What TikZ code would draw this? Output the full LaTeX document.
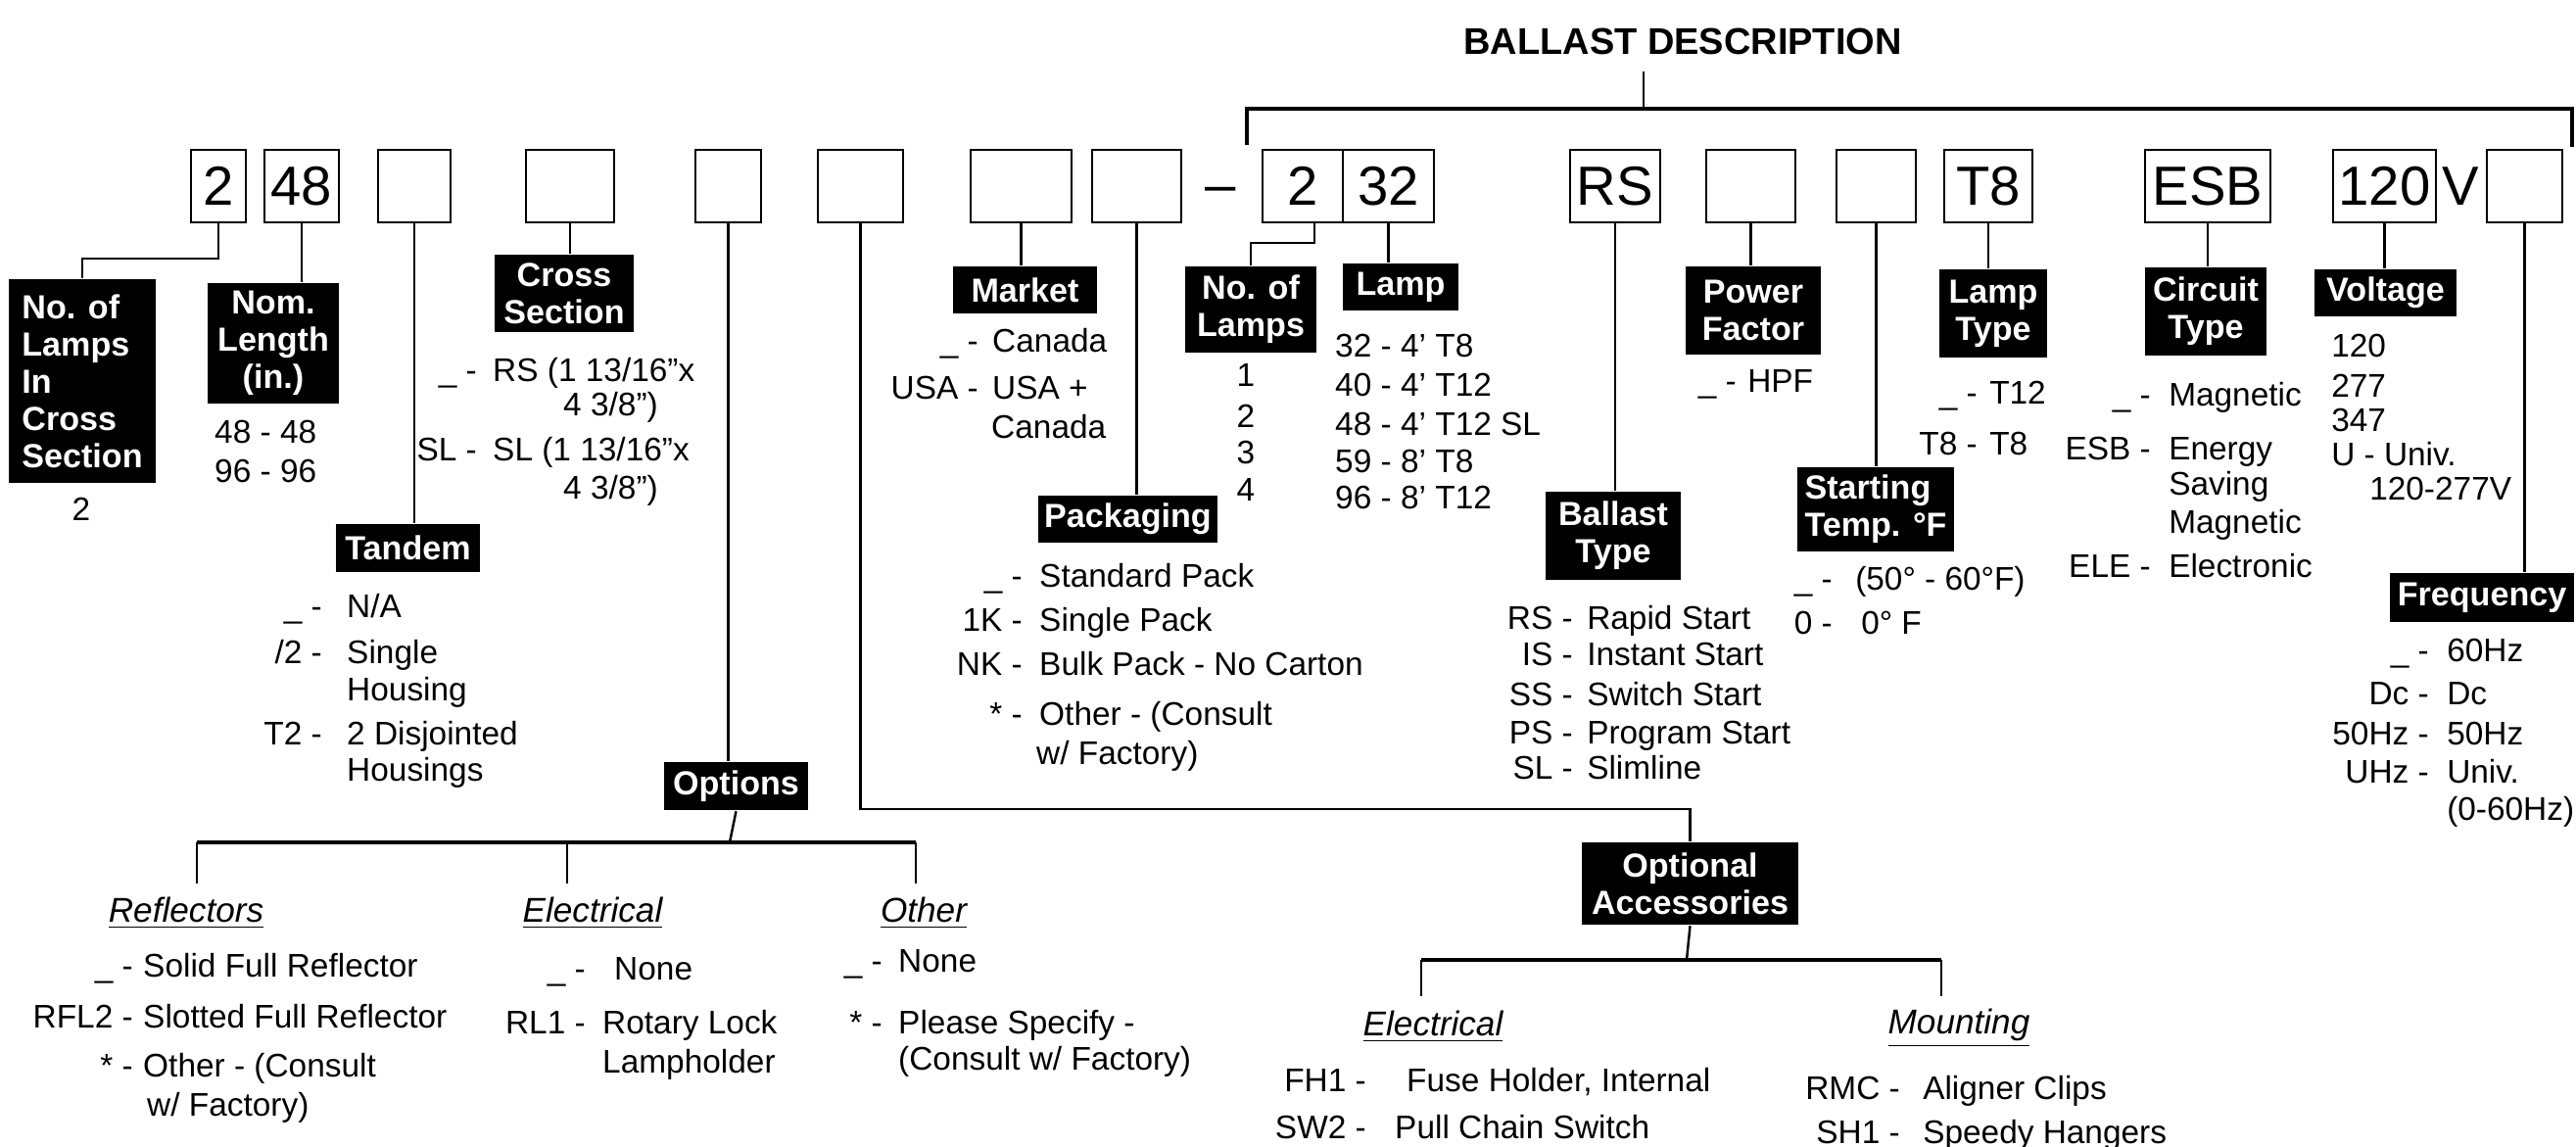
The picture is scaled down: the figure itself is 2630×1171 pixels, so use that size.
\documentclass[tikz,border=0pt]{standalone}
\usepackage{fontspec}
\setmainfont{Liberation Sans}

\tikzset{
  cbox/.style={draw, line width=.7pt, minimum height=.74cm, inner sep=0pt, font=\fontsize{16}{18}\selectfont},
  tagbox/.style 2 args={fill=black, text=white, inner sep=0pt, align=center, minimum width=#1, minimum height=#2,
    font=\bfseries\fontsize{9.7}{10.8}\selectfont},
  txt/.style={inner sep=0pt, font=\fontsize{9.5}{11}\selectfont},
  optcode/.style={txt, anchor=mid east, yshift=-1pt},
  optdesc/.style={txt, anchor=mid west, yshift=-1pt},
  head/.style={inner sep=0pt, font=\itshape\fontsize{10}{12}\selectfont},
  bus/.style={line width=1pt}
}

\begin{document}
\begin{tikzpicture}[x=0.01cm, y=-0.01cm, line width=.7pt]
\useasboundingbox (0,0) rectangle (2630,1171);
% catalogue code boxes
\foreach \n/\x/\w/\t in {b1/223/0.56/2, b2/308/0.76/48, b3/423/0.74/{}, b4/582/0.90/{}, b5/743.5/0.67/{}, b6/878.5/0.87/{},
  b7/1042.5/1.03/{}, b8/1160.5/0.91/{}, b9/1330/0.82/2, b10/1417.5/0.93/32, b11/1649/0.92/RS, b12/1787.5/0.91/{},
  b13/1915.5/0.81/{}, b14/2030/0.90/T8, b15/2254/1.28/ESB, b16/2434.5/1.05/120, b17/2577.5/0.77/{}}
  \node[cbox, minimum width=\w cm] (\n) at (\x,190) {\t};
\node[anchor=west, inner sep=1pt, font=\fontsize{16}{18}\selectfont] (b16v) at (b16.east) {V};
\node[anchor=base, inner sep=0pt, font=\fontsize{16}{18}\selectfont] (hyph) at (1246,208) {–};
% ballast description bracket
\node[inner sep=0pt, font=\bfseries\fontsize{10.8}{12}\selectfont] (title) at (1718,42) {BALLAST DESCRIPTION};
\coordinate (brL) at (1273,148); \coordinate (brTL) at (1273,111); \coordinate (brTR) at (2626,111); \coordinate (brR) at (2626,150);
\coordinate (brM) at (1678,111); \coordinate (brTop) at (1678,73);
\draw[bus] (brL) -- (brTL) -- (brTR) -- (brR); \draw (brM) -- (brTop);

% black labels
\node[tagbox={1.50cm}{2.08cm}, align=left] (nolcs) at (84,389) {No. of\\Lamps\\In\\Cross\\Section};
\node[tagbox={1.34cm}{1.23cm}] (nomlen) at (279,350.5) {Nom.\\Length\\(in.)};
\node[tagbox={1.42cm}{0.79cm}] (crosssec) at (576,299.5) {Cross\\Section};
\node[tagbox={1.47cm}{0.49cm}] (tandem) at (416.5,559.5) {Tandem};
\node[tagbox={1.47cm}{0.49cm}] (options) at (751.5,802.5) {Options};
\node[tagbox={1.47cm}{0.48cm}] (market) at (1046.5,296) {Market};
\node[tagbox={1.83cm}{0.48cm}] (packaging) at (1151.5,530) {Packaging};
\node[tagbox={1.34cm}{0.88cm}] (nolamps) at (1277,316) {No. of\\Lamps};
\node[tagbox={1.18cm}{0.48cm}] (lamp) at (1430,293) {Lamp};
\node[tagbox={1.38cm}{0.90cm}] (balltype) at (1647,547) {Ballast\\Type};
\node[tagbox={1.38cm}{0.90cm}] (powerfac) at (1790,317) {Power\\Factor};
\node[tagbox={1.60cm}{0.86cm}, align=left] (starttemp) at (1915,520) {Starting\\Temp. °F};
\node[tagbox={1.10cm}{0.90cm}] (lamptype) at (2035,320) {Lamp\\Type};
\node[tagbox={1.24cm}{0.90cm}] (circtype) at (2252,318) {Circuit\\Type};
\node[tagbox={1.45cm}{0.48cm}] (voltage) at (2435.5,299) {Voltage};
\node[tagbox={1.88cm}{0.50cm}] (frequency) at (2534,610) {Frequency};
\node[tagbox={2.21cm}{0.84cm}] (optacc) at (1725.5,902) {Optional\\Accessories};

% connectors from the code boxes
\draw (b1.south) -- ++(0,36) -| (nolcs.north);
\draw (b2.south) -- (b2.south |- nomlen.north);
\draw (b3.south) -- (b3.south |- tandem.north);
\draw (b4.south) -- (b4.south |- crosssec.north);
\draw (b5.south) -- (b5.south |- options.north);
\coordinate (acc-knee) at (874,826);
\draw (b6.south) -- (b6.south |- acc-knee) -| (optacc.north);
\draw (b7.south) -- (b7.south |- market.north);
\draw (b8.south) -- (b8.south |- packaging.north);
\draw ([xshift=.12cm]b9.south) -- ++(0,20) -| (nolamps.north);
\draw (b10.south) -- (b10.south |- lamp.north);
\draw (b11.south) -- (b11.south |- balltype.north);
\draw (b12.south) -- (b12.south |- powerfac.north);
\draw (b13.south) -- (b13.south |- starttemp.north);
\draw (b14.south) -- (b14.south |- lamptype.north);
\draw (b15.south) -- (b15.south |- circtype.north);
\draw (b16.south) -- (b16.south |- voltage.north);
\draw (b17.south) -- (b17.south |- frequency.north);

% lamps in cross section, nominal length
\node[txt] (nolcs-v) at (83,520) {2};
\node[optdesc] (len1) at (218,440) {48 - 48}; \node[optdesc] (len2) at (218,480) {96 - 96};
% cross section
\node[optcode] (cs-c1) at (488,377) {\_ -}; \node[optdesc] (cs-d1) at (502,377) {RS (1 13/16”x};
\node[optdesc] (cs-d2) at (574,412) {4 3/8”)};
\node[optcode] (cs-c3) at (488,458) {SL -}; \node[optdesc] (cs-d3) at (502,458) {SL (1 13/16”x};
\node[optdesc] (cs-d4) at (574,497) {4 3/8”)};
% tandem
\foreach \y/\c/\d [count=\i] in {618/{\_ -}/{N/A}, 665/{/2 -}/Single, 748/{T2 -}/{2 Disjointed}}
  {\node[optcode] (tan-c\i) at (330,\y) {\c}; \node[optdesc] (tan-d\i) at (353,\y) {\d};}
\node[optdesc] (tan-h1) at (353,703) {Housing}; \node[optdesc] (tan-h2) at (353,785) {Housings};
% market
\foreach \y/\c/\d [count=\i] in {347/{\_ -}/Canada, 395/{USA -}/{USA +}}
  {\node[optcode] (mkt-c\i) at (1000,\y) {\c}; \node[optdesc] (mkt-d\i) at (1012,\y) {\d};}
\node[optdesc] (mkt-d3) at (1011,435) {Canada};
% packaging
\foreach \y/\c/\d [count=\i] in {587/{\_ -}/{Standard Pack}, 632/{1K -}/{Single Pack}, 677/{NK -}/{Bulk Pack - No Carton},
  728/{* -}/{Other - (Consult}}
  {\node[optcode] (pck-c\i) at (1045,\y) {\c}; \node[optdesc] (pck-d\i) at (1060,\y) {\d};}
\node[optdesc] (pck-d5) at (1057,768) {w/ Factory)};
% number of lamps, lamp
\foreach \n/\y in {1/383, 2/425, 3/462, 4/500} \node[txt] (nl\n) at (1272,\y) {\n};
\foreach \y/\t [count=\i] in {352/{32 - 4’ T8}, 392/{40 - 4’ T12}, 432/{48 - 4’ T12 SL}, 470/{59 - 8’ T8}, 507/{96 - 8’ T12}}
  \node[optdesc] (lmp\i) at (1362,\y) {\t};
% ballast type
\foreach \y/\c/\d [count=\i] in {630/RS/{Rapid Start}, 667/IS/{Instant Start}, 708/SS/{Switch Start},
  747/PS/{Program Start}, 783/SL/Slimline}
  {\node[optcode] (bt-c\i) at (1607,\y) {\c\ -}; \node[optdesc] (bt-d\i) at (1619,\y) {\d};}
% power factor, starting temperature, lamp type
\node[optcode] (pf-c1) at (1774,388) {\_ -}; \node[optdesc] (pf-d1) at (1783,388) {HPF};
\node[optcode] (st-c1) at (1872,590) {\_ -}; \node[optdesc] (st-d1) at (1893,590) {(50° - 60°F)};
\node[optcode] (st-c2) at (1872,635) {0 -}; \node[optdesc] (st-d2) at (1899,635) {0° F};
\node[optcode] (lt-c1) at (2020,400) {\_ -}; \node[optdesc] (lt-d1) at (2030,400) {T12};
\node[optcode] (lt-c2) at (2020,452) {T8 -}; \node[optdesc] (lt-d2) at (2030,452) {T8};
% circuit type
\foreach \y/\c/\d [count=\i] in {402/{\_ -}/Magnetic, 457/{ESB -}/Energy, 577/{ELE -}/Electronic}
  {\node[optcode] (ct-c\i) at (2197,\y) {\c}; \node[optdesc] (ct-d\i) at (2213,\y) {\d};}
\node[optdesc] (ct-d4) at (2213,493) {Saving}; \node[optdesc] (ct-d5) at (2213,532) {Magnetic};
% voltage
\foreach \y/\t [count=\i] in {352/120, 393/277, 428/347, 463/{U - Univ.}}
  \node[optdesc] (vlt\i) at (2379,\y) {\t};
\node[optdesc] (vlt5) at (2418,498) {120-277V};
% frequency
\foreach \y/\c/\d [count=\i] in {663/{\_ -}/60Hz, 707/{Dc -}/Dc, 748/{50Hz -}/50Hz, 787/{UHz -}/{Univ.}}
  {\node[optcode] (fq-c\i) at (2481,\y) {\c}; \node[optdesc] (fq-d\i) at (2497,\y) {\d};}
\node[optdesc] (fq-d5) at (2497,825) {(0-60Hz)};

% options tree
\coordinate (ob) at (745,860); \coordinate (ob1) at (201,860); \coordinate (ob2) at (579,860); \coordinate (ob3) at (935,860);
\draw (options.south) -- (ob); \draw[bus] (ob1) -- (ob3);
\foreach \c in {ob1,ob2,ob3} \draw (\c) -- ++(0,42);
\node[head] (h-refl) at (190,932) {\underline{Reflectors}};
\node[head] (h-elec) at (605,932) {\underline{Electrical}};
\node[head] (h-oth) at (943,932) {\underline{Other}};
\foreach \y/\c/\d [count=\i] in {985/{\_ -}/{Solid Full Reflector}, 1037/{RFL2 -}/{Slotted Full Reflector}, 1087/{* -}/{Other - (Consult}}
  {\node[optcode] (rf-c\i) at (137,\y) {\c}; \node[optdesc] (rf-d\i) at (145,\y) {\d};}
\node[optdesc] (rf-d4) at (149,1127) {w/ Factory)};
\node[optcode] (el-c1) at (599,988) {\_ -}; \node[optdesc] (el-d1) at (626,988) {None};
\node[optcode] (el-c2) at (599,1043) {RL1 -}; \node[optdesc] (el-d2) at (614,1043) {Rotary Lock};
\node[optdesc] (el-d3) at (614,1083) {Lampholder};
\node[optcode] (ot-c1) at (902,980) {\_ -}; \node[optdesc] (ot-d1) at (916,980) {None};
\node[optcode] (ot-c2) at (902,1043) {* -}; \node[optdesc] (ot-d2) at (916,1043) {Please Specify -};
\node[optdesc] (ot-d3) at (916,1080) {(Consult w/ Factory)};

% optional accessories tree
\coordinate (ab) at (1722,980); \coordinate (ab1) at (1451,980); \coordinate (ab2) at (1982,980);
\draw (optacc.south) -- (ab); \draw[bus] (ab1) -- (ab2);
\foreach \c in {ab1,ab2} \draw (\c) -- ++(0,37);
\node[head] (h-aelec) at (1463,1048) {\underline{Electrical}};
\node[head] (h-mount) at (2000,1050) {\underline{Mounting}};
\node[optcode] (ae-c1) at (1396,1102) {FH1 -}; \node[optdesc] (ae-d1) at (1435,1102) {Fuse Holder, Internal};
\node[optcode] (ae-c2) at (1396,1150) {SW2 -}; \node[optdesc] (ae-d2) at (1423,1150) {Pull Chain Switch};
\node[optcode] (mt-c1) at (1941,1110) {RMC -}; \node[optdesc] (mt-d1) at (1962,1110) {Aligner Clips};
\node[optcode] (mt-c2) at (1941,1155) {SH1 -}; \node[optdesc] (mt-d2) at (1962,1155) {Speedy Hangers};
\end{tikzpicture}
\end{document}
